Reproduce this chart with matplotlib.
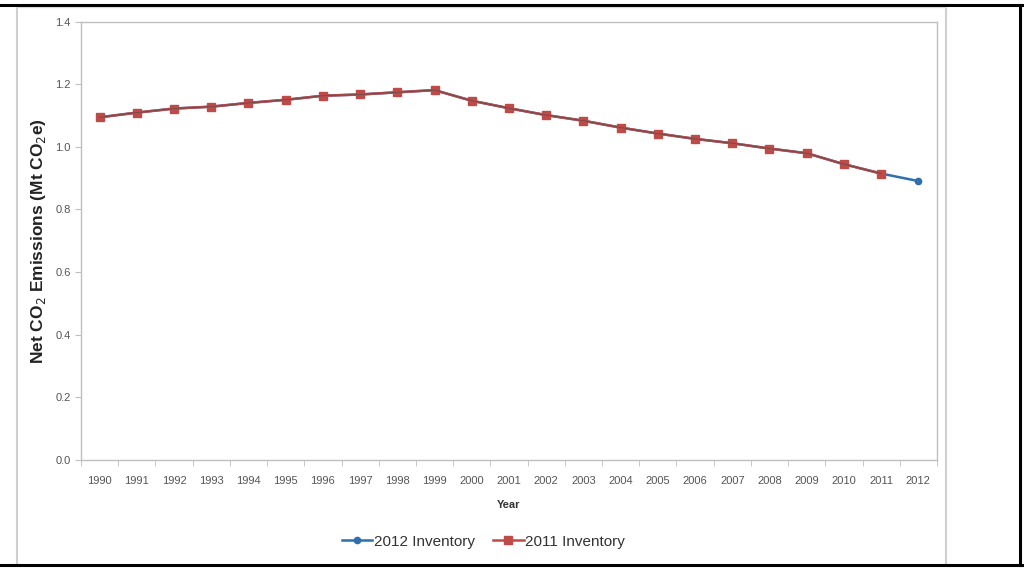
import matplotlib.pyplot as plt
from matplotlib.lines import Line2D
import numpy as np

years = [str(y) for y in range(1990, 2013)]

# 2012 inventory (1990-2012)
inv_2012 = [1.095, 1.110, 1.123, 1.129, 1.141, 1.151, 1.164, 1.168, 1.175, 1.182,
            1.148, 1.124, 1.102, 1.084, 1.062, 1.043, 1.026, 1.012, 0.995, 0.980,
            0.945, 0.915, 0.891]
# 2011 inventory (1990-2011)
inv_2011 = [1.095, 1.110, 1.123, 1.129, 1.141, 1.151, 1.164, 1.168, 1.175, 1.182,
            1.148, 1.124, 1.102, 1.084, 1.062, 1.043, 1.026, 1.012, 0.995, 0.980,
            0.945, 0.915]

blue = '#2F6FAE'
red = '#BE4B48'
grey = '#BFBFBF'

plt.rcParams['font.family'] = ['Liberation Sans', 'DejaVu Sans']

fig = plt.figure(figsize=(10.24, 5.68), dpi=100)
ax = fig.add_axes([0.0791, 0.191, 0.915 - 0.0791, 0.9613 - 0.191])

x = np.arange(len(years))
ax.plot(x, inv_2012, color=blue, lw=1.8, marker='o', ms=4.5,
        mfc=blue, mec=blue, label='2012 Inventory', zorder=2)
ax.plot(x[:len(inv_2011)], inv_2011, color=red, lw=1.8, marker='s', ms=6,
        mfc=red, mec=red, label='2011 Inventory', zorder=3)
# darker core line as in reference
ax.plot(x[:len(inv_2011)], inv_2011, color='#6B4A4A', lw=0.6, zorder=3.5)

ax.set_xlim(-0.5, len(years) - 0.5)
ax.set_ylim(0, 1.4)
ax.set_xticks(x)
ax.set_xticklabels(years)
ax.set_xticks(np.arange(-0.5, len(years)), minor=True)
ax.tick_params(axis='x', which='major', length=0, labelsize=8, colors='#555555', pad=12)
ax.tick_params(axis='x', which='minor', length=4, color=grey)
ax.set_yticks(np.arange(0, 1.41, 0.2))
ax.set_yticklabels([f'{v:.1f}' for v in np.arange(0, 1.41, 0.2)])
ax.tick_params(axis='y', length=4, color=grey, labelsize=8, labelcolor='#555555')

for s in ax.spines.values():
    s.set_color(grey)
    s.set_linewidth(1.0)

ax.set_xlabel('Year', fontsize=8, fontweight='bold', color='#333333', labelpad=10)
ax.set_ylabel('Net CO$_2$ Emissions (Mt CO$_2$e)', fontsize=12.5, fontweight='bold',
              color='#222222', labelpad=5)

leg = ax.legend(loc='upper center', bbox_to_anchor=(0.47, -0.14), ncol=2,
                frameon=False, fontsize=11, handlelength=2.0, columnspacing=1.2,
                handletextpad=0.1)
for t in leg.get_texts():
    t.set_color('#333333')

# outer frames
W, H = 1024, 568
def fline(x0, y0, x1, y1, color, lw):
    fig.add_artist(Line2D([x0 / W, x1 / W], [1 - y0 / H, 1 - y1 / H],
                          color=color, lw=lw, transform=fig.transFigure))

fline(17, 7, 17, 563, '#D0D0D0', 1.5)
fline(946, 7, 946, 563, '#D0D0D0', 1.5)
fline(17, 7, 946, 7, '#E0E0E0', 1.0)
fline(0, 5, 1024, 5, 'black', 2.2)
fline(0, 565, 1024, 565, 'black', 2.2)
fline(1020, 5, 1020, 565, 'black', 2.2)

fig.savefig('out.png', dpi=100)
